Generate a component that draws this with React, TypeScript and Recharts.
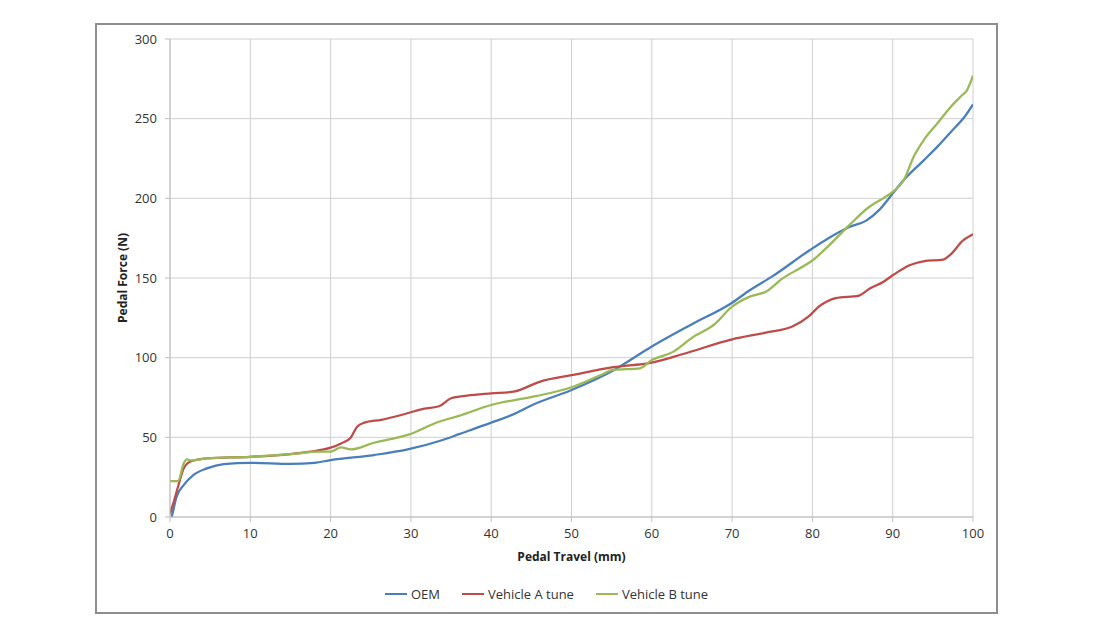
import { LineChart, Line, XAxis, YAxis, CartesianGrid } from 'recharts';

// pedal travel (mm), pedal force (N)
const oemPoints: [number, number][] = [
  [0.2, 0], [0.4, 4], [0.8, 12.5], [1.7, 20], [2.9, 26.3], [4.6, 30.5], [6.7, 33.2], [10, 34],
  [15, 33.3], [18, 34], [20, 35.7], [25.4, 38.9], [29.6, 42.4], [33.75, 48], [36, 52], [40, 59.2],
  [43, 65], [45, 70], [50, 79.7], [55.2, 92], [60, 107], [65, 121], [70, 134.5], [72.1, 142],
  [75, 151], [79.7, 167.6], [82, 175], [84.6, 182], [86.7, 186], [88.3, 192.6], [90, 203],
  [91.4, 211.6], [93.9, 224], [95.6, 232.6], [97.3, 242], [99, 251.5], [100, 259],
];

const vehicleAPoints: [number, number][] = [
  [0, 2], [0.4, 8.4], [1.0, 19], [1.7, 30.5], [2.5, 34.7], [4.6, 36.8], [10, 37.8], [15, 39.5],
  [17.5, 41], [20, 43.5], [21.3, 46.2], [22.5, 49.8], [23.3, 56.7], [24.2, 59.2], [26.3, 61],
  [28.8, 64], [31.3, 67.6], [33.5, 69.5], [35, 74.5], [37, 76.2], [40, 77.6], [42.8, 78.7],
  [46.1, 85], [50, 89], [55.2, 94], [60, 96.9], [63.9, 102.3], [70, 111.5], [74.2, 115.7],
  [77.5, 119.5], [79.5, 125.7], [80.8, 132], [82.9, 137.4], [85.8, 139], [87.1, 143.3],
  [88.8, 147.5], [90, 151.7], [92.1, 158], [93.8, 160.5], [96.3, 161.6], [97.1, 164.3],
  [98.8, 173.7], [100, 177.5],
];

const vehicleBPoints: [number, number][] = [
  [0, 22.5], [1.0, 22.5], [1.7, 33.6], [2.1, 36.1], [2.7, 35.5], [4.6, 36.8], [10, 37.8],
  [15, 39.5], [18.8, 41], [20, 41], [21.3, 43.7], [22.5, 42.4], [25.4, 46.6], [29.6, 51.5],
  [33.5, 59.8], [36, 63.5], [40, 70.3], [45.2, 75.5], [50, 81.4], [53.6, 89], [55.2, 92.3],
  [58.5, 93.3], [60, 98.5], [62.7, 103.8], [65.2, 113.2], [67.7, 120.5], [70, 132], [72.2, 138.3],
  [74.2, 141.4], [76.3, 149.8], [78.4, 156], [80, 161], [82.1, 170.6], [84.6, 183.2],
  [87.1, 194.7], [88.8, 200], [90, 204], [91.4, 211.6], [92.6, 226], [93.9, 236.8],
  [95.6, 247.3], [97.3, 257.8], [98.7, 265], [99.2, 267.5], [100, 277],
];

const xTicks = [0, 10, 20, 30, 40, 50, 60, 70, 80, 90, 100];
const yTicks = [0, 50, 100, 150, 200, 250, 300];

const series = [
  { name: 'OEM', points: oemPoints, color: '#4a7ebb' },
  { name: 'Vehicle A tune', points: vehicleAPoints, color: '#be4b48' },
  { name: 'Vehicle B tune', points: vehicleBPoints, color: '#98b954' },
];

const font = '"Open Sans", sans-serif';
const tickStyle = { fontSize: 13, fill: '#333', fontFamily: font };

export default function App() {
  return (
    <div style={{ position: 'absolute', left: 0, top: 0, width: 1102, height: 627, background: '#fff' }}>
      <div
        style={{
          position: 'absolute',
          left: 95,
          top: 23,
          width: 903,
          height: 591,
          boxSizing: 'border-box',
          border: '2px solid #8e8e8e',
          background: '#fff',
        }}
      >
        <LineChart width={899} height={587} margin={{ top: 14, right: 23, bottom: 51, left: 0 }}>
          <CartesianGrid stroke="#cfcfcf" strokeWidth={1} />
          <XAxis
            type="number"
            dataKey="x"
            domain={[0, 100]}
            ticks={xTicks}
            allowDataOverflow
            height={44}
            tickSize={5}
            tickMargin={7}
            stroke="#bfbfbf"
            tick={tickStyle}
            label={{
              value: 'Pedal Travel (mm)',
              position: 'insideBottom',
              offset: 0,
              style: { fontSize: 12, fontWeight: 700, fill: '#222', fontFamily: font },
            }}
          />
          <YAxis
            type="number"
            dataKey="y"
            domain={[0, 300]}
            ticks={yTicks}
            width={73}
            tickSize={5}
            tickMargin={8}
            stroke="#bfbfbf"
            tick={tickStyle}
            label={{
              content: (props: any) => {
                const vb = props.viewBox;
                const cx = vb.x + 25;
                const cy = vb.y + vb.height / 2;
                return (
                  <text
                    x={cx}
                    y={cy}
                    transform={`rotate(-90, ${cx}, ${cy})`}
                    textAnchor="middle"
                    dominantBaseline="central"
                    style={{ fontSize: 12, fontWeight: 700, fill: '#222', fontFamily: font }}
                  >
                    Pedal Force (N)
                  </text>
                );
              },
            }}
          />
          {series.map((s) => (
            <Line
              key={s.name}
              name={s.name}
              data={s.points.map(([x, y]) => ({ x, y }))}
              dataKey="y"
              type="monotone"
              stroke={s.color}
              strokeWidth={2.25}
              dot={false}
              isAnimationActive={false}
            />
          ))}
        </LineChart>
        <div
          style={{
            position: 'absolute',
            left: 0,
            right: 0,
            top: 560,
            display: 'flex',
            justifyContent: 'center',
            gap: 22,
            fontFamily: font,
            fontSize: 13,
            color: '#333',
          }}
        >
          {series.map((s) => (
            <div key={s.name} style={{ display: 'flex', alignItems: 'center', gap: 4 }}>
              <div style={{ width: 22, height: 2.5, background: s.color }} />
              <span>{s.name}</span>
            </div>
          ))}
        </div>
      </div>
    </div>
  );
}
